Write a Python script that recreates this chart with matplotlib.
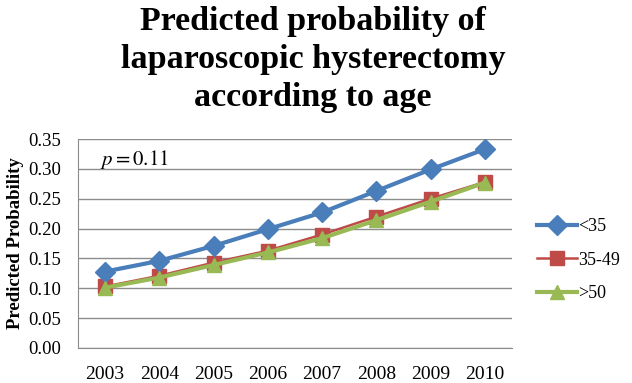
import matplotlib.pyplot as plt

years = ['2003', '2004', '2005', '2006', '2007', '2008', '2009', '2010']
under35 = [0.128, 0.146, 0.171, 0.199, 0.227, 0.263, 0.299, 0.333]
age35_49 = [0.103, 0.121, 0.143, 0.163, 0.190, 0.220, 0.250, 0.278]
over50 = [0.101, 0.118, 0.139, 0.160, 0.184, 0.214, 0.245, 0.277]
labels = ['<35', '35-49', '>50']

plt.rcParams['font.family'] = ['Liberation Serif', 'DejaVu Serif']
plt.rcParams['mathtext.fontset'] = 'stix'

fig = plt.figure(figsize=(6.32, 3.83), dpi=100)
ax = fig.add_axes([78/632, 1 - 348/383, (512-78)/632, (348-139)/383])

x = range(len(years))
ax.plot(x, under35, color='#4A7EBB', lw=3, marker='D', ms=10, label=labels[0], zorder=4)
ax.plot(x, age35_49, color='#BE4B48', lw=1.8, marker='s', ms=10, label=labels[1], zorder=3)
ax.plot(x, over50, color='#98B954', lw=3, marker='^', ms=10, label=labels[2], zorder=5)

ax.set_xlim(-0.5, len(years) - 0.5)
ax.set_ylim(0, 0.35)
ax.set_yticks([i * 0.05 for i in range(8)])
ax.set_yticklabels(['%.2f' % (i * 0.05) for i in range(8)], fontsize=13.5)
ax.set_xticks(list(x))
ax.set_xticklabels(years, fontsize=14)
ax.tick_params(axis='y', length=0, pad=12)
ax.tick_params(axis='x', length=0, pad=13)
ax.grid(axis='y', color='#8C8C8C', lw=1)
ax.set_axisbelow(True)
for s in ['top', 'right']:
    ax.spines[s].set_visible(False)
ax.spines['left'].set_color('#8C8C8C')
ax.spines['bottom'].set_color('#8C8C8C')

ax.set_ylabel('Predicted Probability', fontsize=13.5, fontweight='bold', labelpad=3)
ax.text(0.05, 0.955, r'$p = 0.11$', transform=ax.transAxes, fontsize=15, va='top')

fig.text(0.495, 0.985, 'Predicted probability of\nlaparoscopic hysterectomy\naccording to age',
         ha='center', va='top', fontsize=24.5, fontweight='bold', linespacing=1.3)

ax.legend(loc='center left', bbox_to_anchor=(1.02, 0.42), frameon=False, fontsize=13,
          handlelength=2.2, handletextpad=0.1, labelspacing=0.9)

plt.savefig('out.png')
